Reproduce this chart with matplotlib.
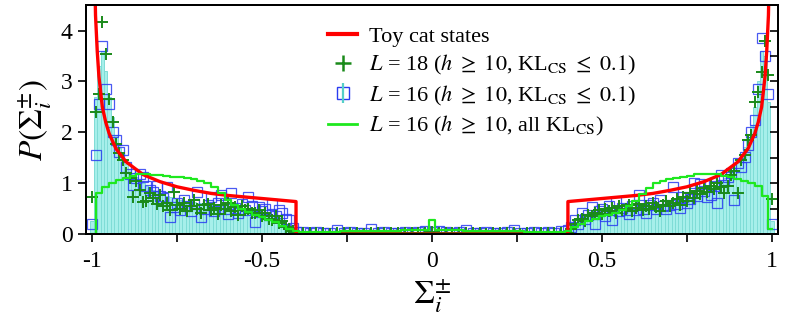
import numpy as np
import matplotlib
matplotlib.use("Agg")
import matplotlib.pyplot as plt
from matplotlib.lines import Line2D
from matplotlib.legend_handler import HandlerTuple

# bin centres (0.01 wide on the two active wings, 0.02 wide in the middle gap)
x_left = np.round(np.arange(-1.00, -0.395, 0.01), 2)
x_right = np.round(np.arange(0.40, 1.005, 0.01), 2)
x_mid = np.round(np.arange(-0.38, 0.385, 0.02), 2)
x_all = np.round(np.arange(-1.00, 1.005, 0.02), 2)

# L = 16 (h >= 10, KL_CS <= 0.1), squares
sq_left = [0.20, 1.55, 2.55, 3.70, 2.85, 2.56, 2.00, 1.84, 1.62, 1.65,
           1.31, 1.19, 0.96, 1.10, 1.19, 1.13, 0.94, 0.86, 0.83, 0.94,
           0.75, 0.72, 0.93, 0.34, 0.53, 0.62, 0.48, 0.67, 0.55, 0.45,
           0.60, 0.83, 0.34, 0.50, 0.58, 0.73, 0.45, 0.62, 0.76, 0.50,
           0.40, 0.80, 0.52, 0.41, 0.60, 0.48, 0.73, 0.55, 0.24, 0.53,
           0.45, 0.50, 0.38, 0.60, 0.35, 0.48, 0.41, 0.30, 0.27, 0.12,
           0.04]
sq_right = [0.08, 0.15, 0.27, 0.20, 0.41, 0.30, 0.38, 0.53, 0.20, 0.45,
            0.50, 0.35, 0.55, 0.27, 0.63, 0.45, 0.52, 0.47, 0.40, 0.55,
            0.48, 0.76, 0.50, 0.41, 0.57, 0.62, 0.50, 0.67, 0.55, 0.50,
            0.57, 0.93, 0.60, 0.52, 0.73, 0.62, 0.70, 1.01, 0.75, 0.99,
            0.85, 0.73, 0.76, 0.95, 0.62, 1.16, 1.06, 1.13, 1.20, 0.67,
            1.39, 1.31, 1.51, 1.75, 2.00, 2.24, 2.86, 3.86, 3.50, 2.75,
            0.20]
sq_mid = [0.04, 0.03, 0.05, 0.03, 0.02, 0.08, 0.03, 0.04, 0.02, 0.03,
          0.10, 0.03, 0.04, 0.02, 0.03, 0.05, 0.03, 0.04, 0.06, 0.05,
          0.06, 0.04, 0.03, 0.05, 0.09, 0.03, 0.02, 0.04, 0.03, 0.02,
          0.04, 0.08, 0.03, 0.02, 0.04, 0.03, 0.05, 0.03, 0.06]

# L = 18 (h >= 10, KL_CS <= 0.1), plus markers
pl_left = [0.73, 2.40, 2.75, 4.17, 3.54, 2.66, 2.20, 1.78, 1.60, 1.45,
           1.20, 1.10, 0.73, 1.05, 0.86, 0.63, 0.65, 0.80, 0.72, 0.60,
           0.76, 0.55, 0.62, 0.48, 0.82, 0.58, 0.50, 0.62, 0.45, 0.55,
           0.68, 0.50, 0.42, 0.57, 0.60, 0.48, 0.52, 0.40, 0.58, 0.50,
           0.62, 0.45, 0.53, 0.38, 0.55, 0.47, 0.50, 0.42, 0.41, 0.48,
           0.36, 0.42, 0.30, 0.27, 0.35, 0.22, 0.25, 0.15, 0.10, 0.06,
           0.02]
pl_right = [0.03, 0.10, 0.20, 0.27, 0.30, 0.25, 0.38, 0.35, 0.42, 0.47,
            0.40, 0.50, 0.45, 0.52, 0.42, 0.55, 0.48, 0.50, 0.58, 0.45,
            0.52, 0.60, 0.48, 0.55, 0.50, 0.62, 0.53, 0.45, 0.58, 0.65,
            0.55, 0.62, 0.70, 0.58, 0.73, 0.65, 0.80, 0.72, 0.85, 0.78,
            0.90, 0.82, 0.95, 0.88, 1.00, 0.92, 0.80, 0.94, 1.16, 1.25,
            0.80, 1.45, 1.55, 1.84, 1.94, 2.60, 2.80, 3.18, 3.80, 3.12,
            0.70]
pl_mid = [0.02, 0.02, 0.03, 0.02, 0.01, 0.02, 0.03, 0.02, 0.02, 0.01,
          0.02, 0.03, 0.02, 0.02, 0.03, 0.02, 0.02, 0.03, 0.03, 0.04,
          0.03, 0.03, 0.02, 0.02, 0.03, 0.02, 0.02, 0.01, 0.02, 0.03,
          0.02, 0.02, 0.01, 0.02, 0.03, 0.02, 0.02, 0.03, 0.02]

# cyan histogram (L = 16, KL_CS <= 0.1)
bar_left = [0.25, 2.70, 3.30, 3.60, 3.20, 2.70, 2.30, 1.95, 1.70, 1.50,
            1.38, 1.28, 1.20, 1.12, 1.05, 1.00, 0.95, 0.90, 0.86, 0.82,
            0.80, 0.77, 0.75, 0.73, 0.71, 0.69, 0.68, 0.66, 0.65, 0.64,
            0.63, 0.62, 0.61, 0.60, 0.59, 0.58, 0.57, 0.57, 0.56, 0.55,
            0.54, 0.53, 0.52, 0.51, 0.50, 0.49, 0.48, 0.47, 0.46, 0.45,
            0.43, 0.41, 0.39, 0.36, 0.33, 0.29, 0.25, 0.20, 0.14, 0.08,
            0.03]
bar_right = [0.05, 0.12, 0.18, 0.24, 0.29, 0.33, 0.36, 0.39, 0.41, 0.43,
             0.44, 0.45, 0.46, 0.47, 0.48, 0.49, 0.50, 0.50, 0.51, 0.52,
             0.53, 0.54, 0.54, 0.55, 0.56, 0.57, 0.58, 0.59, 0.60, 0.61,
             0.62, 0.63, 0.65, 0.66, 0.68, 0.70, 0.72, 0.74, 0.77, 0.80,
             0.83, 0.87, 0.91, 0.95, 1.00, 1.05, 1.11, 1.18, 1.26, 1.35,
             1.46, 1.58, 1.72, 1.90, 2.15, 2.50, 3.00, 3.60, 3.50, 2.60,
             0.25]

# L = 16 (h >= 10, all KL_CS), green step line
all_kl = [0.00, 0.80, 0.92, 1.00, 1.07, 1.10, 1.15, 1.18, 1.19, 1.17,
          1.16, 1.15, 1.13, 1.12, 1.10, 1.08, 1.05, 1.00, 0.92, 0.80,
          0.68, 0.58, 0.50, 0.44, 0.38, 0.33, 0.28, 0.23, 0.17, 0.11,
          0.07, 0.05, 0.05, 0.05, 0.05, 0.05, 0.05, 0.06, 0.06, 0.06,
          0.06, 0.06, 0.07, 0.07, 0.07, 0.07, 0.08, 0.08, 0.08, 0.08,
          0.27, 0.08, 0.08, 0.08, 0.08, 0.07, 0.07, 0.07, 0.07, 0.06,
          0.06, 0.06, 0.06, 0.06, 0.05, 0.05, 0.05, 0.05, 0.05, 0.05,
          0.07, 0.14, 0.20, 0.25, 0.30, 0.35, 0.38, 0.41, 0.47, 0.55,
          0.65, 0.78, 0.90, 1.00, 1.05, 1.09, 1.10, 1.12, 1.15, 1.18,
          1.19, 1.19, 1.18, 1.15, 1.12, 1.08, 1.04, 1.00, 0.94, 0.75,
          0.10]

# toy cat states (positive wing, curve is mirrored to negative side)
toy_x = [0.40, 0.45, 0.50, 0.55, 0.60, 0.65, 0.70, 0.75, 0.80, 0.85,
         0.90, 0.93, 0.95, 0.96, 0.97, 0.98, 0.985, 0.99, 0.995]
toy_y = [0.64, 0.67, 0.70, 0.73, 0.76, 0.80, 0.86, 0.93, 1.03, 1.17,
         1.42, 1.68, 1.98, 2.20, 2.50, 3.10, 3.60, 4.30, 6.00]


def main():
    plt.rcParams['font.family'] = ['Liberation Serif', 'DejaVu Serif']
    plt.rcParams['mathtext.fontset'] = 'stix'
    plt.rcParams['axes.unicode_minus'] = False

    fig = plt.figure(figsize=(7.89, 3.16), dpi=100)
    ax = fig.add_axes([0.109, 0.259, 0.877, 0.725])

    # histogram bars
    ax.bar(x_left, bar_left, width=0.01, color='#a6efea', edgecolor='#7fdcd6',
           linewidth=0.7, zorder=1)
    ax.bar(x_right, bar_right, width=0.01, color='#a6efea', edgecolor='#7fdcd6',
           linewidth=0.7, zorder=1)

    # red toy curve, mirrored, with the gap at zero
    tx = np.array(toy_x)
    ty = np.array(toy_y)
    red_x = np.concatenate([-tx[::-1], [-0.40, 0.40], tx])
    red_y = np.concatenate([ty[::-1], [0.0, 0.0], ty])
    ax.plot(red_x, red_y, color='red', lw=2.4, zorder=4)

    # green step line
    ax.plot(x_all, all_kl, color='#1ee81e', lw=1.6, drawstyle='steps-mid', zorder=5)

    sq_x = np.concatenate([x_left, x_mid, x_right])
    sq_y = sq_left + sq_mid + sq_right
    ax.plot(sq_x, sq_y, ls='none', marker='s', ms=6.5, mfc='none', mec='#2a3cf0',
            mew=0.9, alpha=0.85, zorder=3)

    pl_y = pl_left + pl_mid + pl_right
    ax.plot(sq_x, pl_y, ls='none', marker='+', ms=8, mec='#1a8a1a', mew=1.4,
            zorder=3)

    ax.set_xlim(-1.018, 1.018)
    ax.set_ylim(0, 4.5)
    ax.set_xticks([-1, -0.5, 0, 0.5, 1])
    ax.set_xticklabels(['-1', '-0.5', '0', '0.5', '1'])
    ax.set_xticks([-0.75, -0.25, 0.25, 0.75], minor=True)
    ax.set_yticks([0, 1, 2, 3, 4])
    ax.tick_params(axis='both', which='both', direction='out', labelsize=17,
                   width=1.2, length=6, top=False, right=False)
    ax.tick_params(axis='x', which='major', pad=6)

    # right axis with inward ticks every 0.5
    ax2 = ax.twinx()
    ax2.set_ylim(0, 4.5)
    ax2.set_yticks(np.arange(0.5, 4.5, 0.5))
    ax2.tick_params(axis='y', direction='in', length=6, width=1.2, labelright=False)

    for a in (ax, ax2):
        for s in a.spines.values():
            s.set_linewidth(1.4)

    ax.set_xlabel(r'$\Sigma_i^{\pm}$', fontsize=24, labelpad=4)
    ax.set_ylabel(r'$P(\Sigma_i^{\pm})$', fontsize=24, labelpad=4)

    h_red = Line2D([], [], color='red', lw=3)
    h_plus = Line2D([], [], ls='none', marker='+', ms=11, mec='#1a8a1a', mew=1.8)
    h_err = Line2D([], [], ls='none', marker='|', ms=15, mec='#55d0c8', mew=1.6)
    h_sq = Line2D([], [], ls='none', marker='s', ms=9, mfc='none', mec='#2a3cf0', mew=1.0)
    h_green = Line2D([], [], color='#1ee81e', lw=2)
    labels = ['Toy cat states',
              r'$L$ = 18 ($h\ \geq\ 10$, KL$_{\rm CS}\ \leq\ 0.1$)',
              r'$L$ = 16 ($h\ \geq\ 10$, KL$_{\rm CS}\ \leq\ 0.1$)',
              r'$L$ = 16 ($h\ \geq\ 10$, all KL$_{\rm CS}$)']
    leg = ax.legend([h_red, (h_plus,), (h_sq, h_err), h_green], labels,
                    handler_map={tuple: HandlerTuple(ndivide=1, pad=0)},
                    loc='upper left', bbox_to_anchor=(0.337, 0.945), frameon=False,
                    fontsize=16, handlelength=1.3, handletextpad=0.55,
                    labelspacing=0.28, borderaxespad=0)
    leg.set_zorder(10)

    fig.savefig('out.png', dpi=100)


if __name__ == '__main__':
    main()
